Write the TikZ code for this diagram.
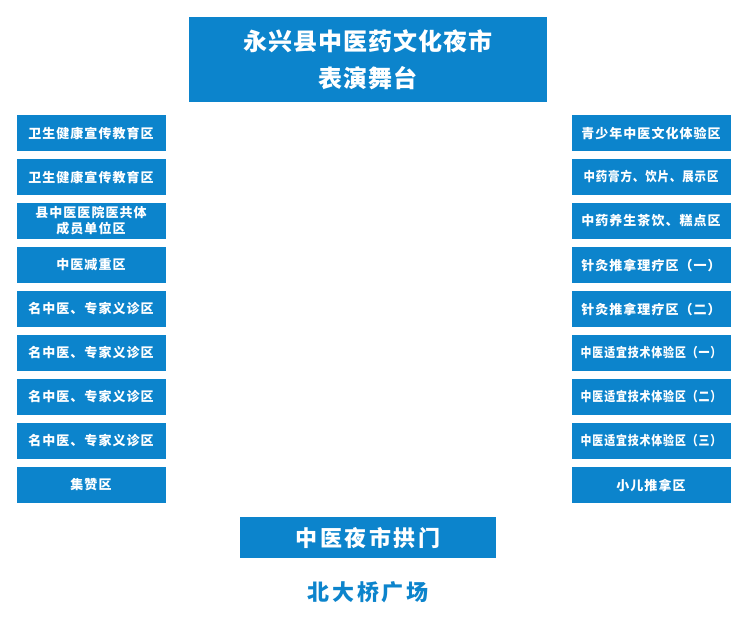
\documentclass[tikz,border=0pt]{standalone}
\usepackage{fontspec}
\usepackage{graphicx}
\newfontfamily\cjksmall{Noto Sans CJK SC}[LetterSpace=8]
\newfontfamily\cjkbig{Noto Sans CJK SC}[LetterSpace=4]
\newfontfamily\cjkgate{Noto Sans CJK SC}[LetterSpace=12]
\definecolor{zoneblue}{RGB}{12,132,204}
\newcommand{\squeeze}[2]{\scalebox{#1}[1]{#2}}
\begin{document}
\begin{tikzpicture}[x=1pt,y=-1pt,
  zone/.style={fill=zoneblue,draw=none,minimum width=149pt,minimum height=36pt,inner sep=0pt,
    text=white,font=\cjksmall\bfseries\fontsize{13}{14}\selectfont,align=center},
  rzone/.style={zone,minimum width=159pt},
  stage/.style={fill=zoneblue,draw=none,minimum width=358pt,minimum height=85pt,inner sep=0pt,
    text=white,font=\cjkbig\bfseries\fontsize{24}{37}\selectfont,align=center},
  gate/.style={fill=zoneblue,draw=none,minimum width=256pt,minimum height=41pt,inner sep=0pt,
    text=white,font=\cjkgate\bfseries\fontsize{22}{26}\selectfont},
  plaza/.style={text=zoneblue,font=\cjkgate\bfseries\fontsize{22}{26}\selectfont,inner sep=0pt}]
\useasboundingbox (0,0) rectangle (750,619);
\fill[white] (0,0) rectangle (750,619);
\node[stage] (stage) at (368,59.5) {永兴县中医药文化夜市\\表演舞台};
% left column
\node[zone] (l1) at (91,133) {卫生健康宣传教育区};
\node[zone] (l2) at (91,177) {卫生健康宣传教育区};
\node[zone,font=\cjksmall\bfseries\fontsize{13}{16}\selectfont] (l3) at (91,221) {县中医医院医共体\\成员单位区};
\node[zone] (l4) at (91,265) {中医减重区};
\node[zone] (l5) at (91,309) {名中医、专家义诊区};
\node[zone] (l6) at (91,353) {名中医、专家义诊区};
\node[zone] (l7) at (91,397) {名中医、专家义诊区};
\node[zone] (l8) at (91,441) {名中医、专家义诊区};
\node[zone] (l9) at (91,485) {集赞区};
% right column
\node[rzone] (r1) at (651,133) {青少年中医文化体验区};
\node[rzone] (r2) at (651,177) {\squeeze{0.88}{中药膏方、饮片、展示区}};
\node[rzone] (r3) at (651,221) {中药养生茶饮、糕点区};
\node[rzone] (r4) at (651,265) {针灸推拿理疗区（一）};
\node[rzone] (r5) at (651,309) {针灸推拿理疗区（二）};
\node[rzone] (r6) at (651,353) {\squeeze{0.84}{中医适宜技术体验区（一）}};
\node[rzone] (r7) at (651,397) {\squeeze{0.84}{中医适宜技术体验区（二）}};
\node[rzone] (r8) at (651,441) {\squeeze{0.84}{中医适宜技术体验区（三）}};
\node[rzone] (r9) at (651,485) {小儿推拿区};
% gate and plaza
\node[gate] (gate) at (368,537.5) {中医夜市拱门};
\node[plaza] (plaza) at (368,592) {北大桥广场};
\end{tikzpicture}
\end{document}
